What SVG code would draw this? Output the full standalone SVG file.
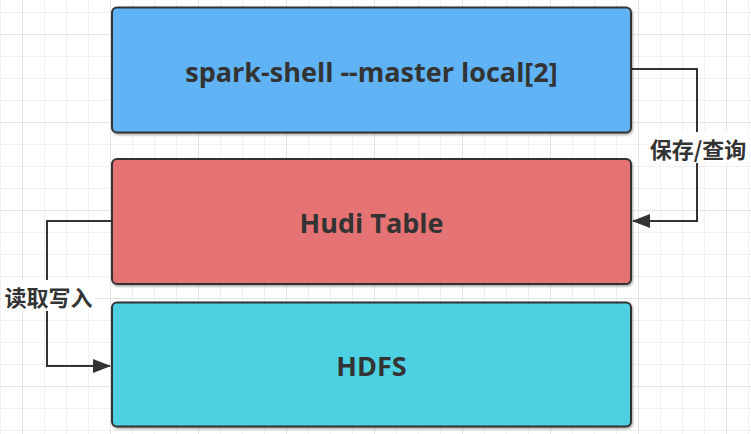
<svg xmlns="http://www.w3.org/2000/svg" width="751" height="434" viewBox="0 0 751 434">
  <defs>
    <pattern id="minor" width="22" height="22" patternUnits="userSpaceOnUse" x="0" y="12">
      <path d="M0 0.5H22M0.5 0V22" fill="none" stroke="#f0f0f0" stroke-width="1"/>
    </pattern>
    <pattern id="major" width="88" height="88" patternUnits="userSpaceOnUse" x="22" y="34">
      <path d="M0 0.5H88M0.5 0V88" fill="none" stroke="#e4e4e4" stroke-width="1"/>
    </pattern>
    <marker id="arrow" viewBox="0 0 18 14" refX="17" refY="7" markerWidth="18" markerHeight="14" markerUnits="userSpaceOnUse" orient="auto">
      <path d="M0 0L18 7L0 14Z" fill="#333"/>
    </marker>
    <filter id="shadow" x="-5%" y="-5%" width="110%" height="115%">
      <feDropShadow dx="1" dy="1.5" stdDeviation="0.8" flood-color="#000" flood-opacity="0.35"/>
    </filter>
  </defs>
  <style>
    .box { stroke: #333; stroke-width: 2; filter: url(#shadow); }
    .title { font-family: "Open Sans", "Noto Sans", "DejaVu Sans", sans-serif; font-weight: bold; font-size: 27px; fill: #333; text-anchor: middle; dominant-baseline: central; }
    .edge { fill: none; stroke: #333; stroke-width: 2; }
    .label { font-family: "Noto Sans CJK SC", "Open Sans", sans-serif; font-weight: bold; font-size: 22px; fill: #333; text-anchor: middle; dominant-baseline: central; }
  </style>
  <rect width="751" height="434" fill="#ffffff"/>
  <rect width="751" height="434" fill="url(#minor)"/>
  <rect width="751" height="434" fill="url(#major)"/>

  <g id="connectors">
    <path class="edge" d="M632 69H697V221H633" marker-end="url(#arrow)"/>
    <rect x="647" y="132" width="102" height="31" fill="#ffffff"/>
    <text class="label" x="698" y="148">保存/查询</text>
    <path class="edge" d="M111 221H47V366H110" marker-end="url(#arrow)"/>
    <rect x="2" y="280" width="93" height="31" fill="#ffffff"/>
    <text class="label" x="48.5" y="296">读取写入</text>
  </g>

  <g id="spark">
    <rect class="box" x="112" y="7.5" width="519" height="125" rx="5" fill="#61b3f5"/>
    <text class="title" x="371.5" y="71">spark-shell --master local[2]</text>
  </g>
  <g id="hudi">
    <rect class="box" x="112" y="159" width="519" height="125" rx="5" fill="#e67373"/>
    <text class="title" x="371.5" y="222">Hudi Table</text>
  </g>
  <g id="hdfs">
    <rect class="box" x="112" y="302.5" width="519" height="124" rx="5" fill="#4dd0e1"/>
    <text class="title" x="371.5" y="365">HDFS</text>
  </g>
</svg>
